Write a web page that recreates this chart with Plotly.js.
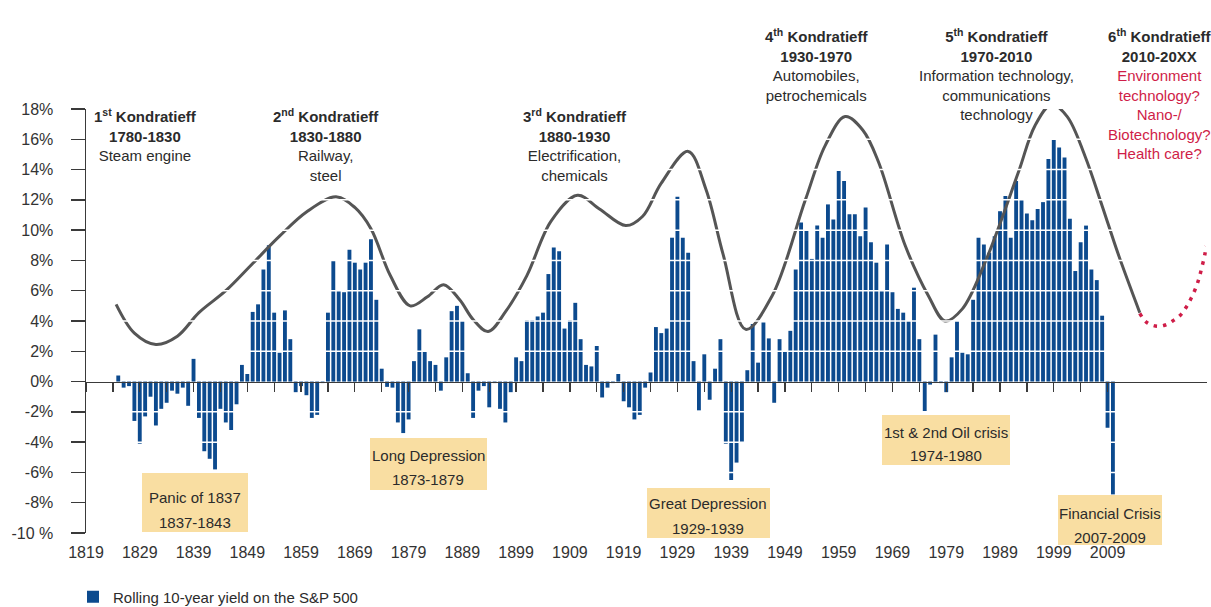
<!DOCTYPE html>
<html><head><meta charset="utf-8">
<script src="https://cdn.plot.ly/plotly-3.0.1.min.js"></script>
<style>html,body{margin:0;padding:0;background:#fff}#chart{width:1211px;height:607px}</style>
</head><body><div id="chart"></div>
<script>
// ---- data ----
const years = [
1825,1826,1827,1828,1829,1830,1831,1832,1833,1834,
1835,1836,1837,1838,1839,1840,1841,1842,1843,1844,
1845,1846,1847,1848,1849,1850,1851,1852,1853,1854,
1855,1856,1857,1858,1859,1860,1861,1862,1863,1864,
1865,1866,1867,1868,1869,1870,1871,1872,1873,1874,
1875,1876,1877,1878,1879,1880,1881,1882,1883,1884,
1885,1886,1887,1888,1889,1890,1891,1892,1893,1894,
1895,1896,1897,1898,1899,1900,1901,1902,1903,1904,
1905,1906,1907,1908,1909,1910,1911,1912,1913,1914,
1915,1916,1917,1918,1919,1920,1921,1922,1923,1924,
1925,1926,1927,1928,1929,1930,1931,1932,1933,1934,
1935,1936,1937,1938,1939,1940,1941,1942,1943,1944,
1945,1946,1947,1948,1949,1950,1951,1952,1953,1954,
1955,1956,1957,1958,1959,1960,1961,1962,1963,1964,
1965,1966,1967,1968,1969,1970,1971,1972,1973,1974,
1975,1976,1977,1978,1979,1980,1981,1982,1983,1984,
1985,1986,1987,1988,1989,1990,1991,1992,1993,1994,
1995,1996,1997,1998,1999,2000,2001,2002,2003,2004,
2005,2006,2007,2008,2009,2010];
const yields = [
0.4,-0.4,-0.3,-2.6,-4.1,-2.3,-1.0,-2.9,-1.8,-1.4,
-0.6,-0.8,-0.4,-1.6,1.5,-2.4,-4.6,-5.1,-5.8,-1.8,
-2.7,-3.2,-1.5,1.1,0.5,4.6,5.1,7.4,9.0,4.55,
1.9,4.7,2.8,-0.7,-0.3,-0.9,-2.4,-2.2,-0.1,4.55,
8.0,6.0,5.9,8.7,7.85,7.4,7.85,9.4,5.4,0.85,
-0.35,-0.4,-2.7,-3.4,-2.5,1.35,3.45,2.0,1.35,1.1,
-0.6,1.6,4.65,5.0,4.0,0.55,-2.4,-0.6,-0.3,-1.7,
-0.1,-1.8,-2.7,-0.7,1.6,1.35,4.05,4.05,4.3,4.55,
7.1,8.85,8.6,3.5,4.05,5.2,2.8,1.1,1.0,2.35,
-1.05,-0.4,-0.1,0.5,-1.3,-1.7,-2.5,-2.2,-0.4,0.6,
3.6,3.2,3.5,9.5,12.2,9.5,8.5,1.35,-1.9,1.8,
-1.2,0.85,2.8,-4.1,-6.5,-5.35,-4.0,0.75,3.8,1.25,
3.9,2.85,-1.4,2.8,2.0,3.35,7.4,10.5,9.95,8.1,
10.3,9.5,11.7,10.7,13.9,13.25,11.05,11.05,9.6,11.5,
9.2,7.85,6.0,9.05,5.9,4.8,4.55,4.0,6.2,2.8,
-1.95,-0.2,3.1,-0.1,-0.7,1.6,4.0,1.9,1.8,5.4,
9.5,9.05,8.5,9.6,11.25,12.25,9.5,13.25,12.0,11.1,
10.65,11.4,11.85,14.7,16.0,15.45,14.8,10.75,7.3,9.2,
10.3,7.4,6.7,4.35,-3.05,-7.45];

const waveYears = [1824.6,1828,1832,1836,1840,1845,1850,1855,1860,1865.5,1869,1872,1875.6,1879.3,1882.5,1885.5,1888.5,1891,1893.8,1897,1901,1905.5,1910.4,1914.5,1919.4,1922.5,1926,1931,1934.3,1937.5,1941.7,1946.6,1952.8,1956.5,1960.2,1963.5,1966.4,1971.4,1975.7,1978.8,1982,1986.2,1992.4,1995.5,1998.6,2001.5,2004.8,2008,2011,2015];
const waveValues = [5.1,3.2,2.45,3.0,4.55,6.0,7.8,9.6,11.2,12.2,11.5,10.1,7.0,5.0,5.6,6.4,5.4,4.1,3.3,4.6,7.0,10.6,12.3,11.4,10.3,10.9,13.1,15.2,12.7,8.4,3.45,5.65,12.0,15.6,17.5,16.6,14.5,8.95,5.65,4.0,4.8,7.85,13.8,16.9,18.3,17.5,14.9,11.6,8.4,4.55];

const forecastYears = [2015,2016.2,2017.9,2019.6,2021.4,2022.7,2023.7,2024.6,2025.5,2026.1,2026.6,2027.1,2027.3];
const forecastValues = [4.5,3.93,3.67,3.72,4.07,4.44,4.95,5.54,6.27,6.93,7.63,8.4,8.95];

const yTickValues = [-10,-8,-6,-4,-2,0,2,4,6,8,10,12,14,16,18];
const yTickLabels = ['-10 %','-8%','-6%','-4%','-2%','0%','2%','4%','6%','8%','10%','12%','14%','16%','18%'];
const xLabelYears = [1819,1829,1839,1849,1859,1869,1879,1889,1899,1909,1919,1929,1939,1949,1959,1969,1979,1989,1999,2009];
const xMinorTickYears = [1819,1824,1829,1834,1839,1844,1849,1854,1859,1864,1869,1874,1879,1884,1889,1894,1899,1904,1909,1914,1919,1924,1929,1934,1939,1944,1949,1954,1959,1964,1969,1974,1979,1984,1989,1994,1999,2004,2009];

// ---- layout helpers (pixel -> paper) ----
const W = 1211, H = 607, M = {l:86, r:4, t:109, b:74};
const PW = W - M.l - M.r, PH = H - M.t - M.b;
const px = x => (x - M.l) / PW;
const py = y => (H - M.b - y) / PH;

const BAR = '#0c4a8e';
const RED = '#cf1d48';
const TXT = '#2b2b2b';
const FONT = '"Liberation Sans", Arial, sans-serif';

const traces = [
  {type:'bar', x:years, y:yields, xaxis:'x', yaxis:'y', name:'Rolling 10-year yield on the S&P 500',
   marker:{color:BAR, line:{width:0}}, hoverinfo:'skip'},
  {type:'scatter', mode:'lines', x:waveYears, y:waveValues, xaxis:'x2', yaxis:'y', showlegend:false, cliponaxis:false,
   line:{color:'#555555', width:3, shape:'spline', smoothing:1}, hoverinfo:'skip'},
  {type:'scatter', mode:'lines', x:forecastYears, y:forecastValues, xaxis:'x2', yaxis:'y', showlegend:false,
   line:{color:RED, width:3.5, shape:'spline', smoothing:1, dash:'3.5px,6px'}, cliponaxis:false, hoverinfo:'skip'}
];

const shapes = [];
yTickValues.forEach(v => {
  if (v === 0 || v === 18 || v === -10) return;
  shapes.push({type:'line', xref:'paper', yref:'y', x0:px(90), x1:px(1125), y0:v, y1:v,
    line:{color:'#ffffff', width:1.5}, layer:'above'});
});
const boxes = [[142,473,248,532],[370,438,487,490],[647,488,770,538],[882,415,1010,465],[1058,495,1162,545]];
boxes.forEach(b => shapes.push({type:'rect', xref:'paper', yref:'paper', x0:px(b[0]), x1:px(b[2]), y0:py(b[3]), y1:py(b[1]),
  fillcolor:'#f9dea2', line:{width:0}, layer:'above'}));

const annotations = [];
function note(x, y, text, opts) {
  annotations.push(Object.assign({xref:'paper', yref:'paper', x:px(x), y:py(y), text:text, showarrow:false,
    xanchor:'center', yanchor:'middle', align:'center', font:{family:FONT, size:15, color:TXT}}, opts || {}));
}
// wave headers
note(145, 104, '<b>1<sup>st</sup> Kondratieff</b><br><b>1780-1830</b><br>Steam engine', {yanchor:'top'});
note(326, 104, '<b>2<sup>nd</sup> Kondratieff</b><br><b>1830-1880</b><br>Railway,<br>steel', {yanchor:'top'});
note(575, 104, '<b>3<sup>rd</sup> Kondratieff</b><br><b>1880-1930</b><br>Electrification,<br>chemicals', {yanchor:'top'});
note(816, 24, '<b>4<sup>th</sup> Kondratieff</b><br><b>1930-1970</b><br>Automobiles,<br>petrochemicals', {yanchor:'top'});
note(996, 24, '<b>5<sup>th</sup> Kondratieff</b><br><b>1970-2010</b><br>Information technology,<br>communications<br>technology', {yanchor:'top'});
note(1160, 24, '<b>6<sup>th</sup> Kondratieff</b><br><b>2010-20XX</b><br><span style="color:' + RED + '">Environment<br>technology?<br>Nano-/<br>Biotechnology?<br>Health care?</span>', {yanchor:'top'});
// crisis boxes text
note(195, 497, 'Panic of 1837'); note(195, 522, '1837-1843');
note(428, 455, 'Long Depression'); note(428, 479, '1873-1879');
note(708, 503, 'Great Depression'); note(708, 528, '1929-1939');
note(946, 432, '1st &amp; 2nd Oil crisis'); note(946, 455, '1974-1980');
note(1110, 513, 'Financial Crisis'); note(1110, 537, '2007-2009');

const xr = [1819, 2027.5];
const layout = {
  width:W, height:H, margin:M,
  paper_bgcolor:'#ffffff', plot_bgcolor:'#ffffff',
  font:{family:FONT, size:15, color:TXT},
  bargap:0.28,
  showlegend:true,
  legend:{orientation:'h', xref:'container', yref:'container', x:73/W, y:10/H, xanchor:'left', yanchor:'middle',
    font:{family:FONT, size:15, color:TXT}, bgcolor:'rgba(0,0,0,0)'},
  xaxis:{range:xr, showline:false, zeroline:false, showgrid:false, ticks:'', tickmode:'array',
    tickvals:xLabelYears, ticktext:xLabelYears.map(String), tickfont:{family:FONT, size:16, color:'#333'},
    ticklabelstandoff:8},
  xaxis2:{range:xr, overlaying:'x', anchor:'free', position:10/28, showline:true, linecolor:'#3a3a3a', linewidth:1.5,
    ticks:'outside', ticklen:9, tickwidth:1.3, tickcolor:'#3a3a3a', tickmode:'array', tickvals:xMinorTickYears,
    showticklabels:false, showgrid:false, zeroline:false},
  yaxis:{range:[-10,18], showline:true, linecolor:'#3a3a3a', linewidth:1.5, ticks:'outside', ticklen:14,
    tickwidth:1.3, tickcolor:'#3a3a3a', tickmode:'array', tickvals:yTickValues, ticktext:yTickLabels,
    tickfont:{family:FONT, size:16, color:'#333'}, ticklabelstandoff:14, showgrid:false, zeroline:false},
  shapes:shapes, annotations:annotations
};
Plotly.newPlot('chart', traces, layout, {staticPlot:true, displayModeBar:false});
</script></body></html>
